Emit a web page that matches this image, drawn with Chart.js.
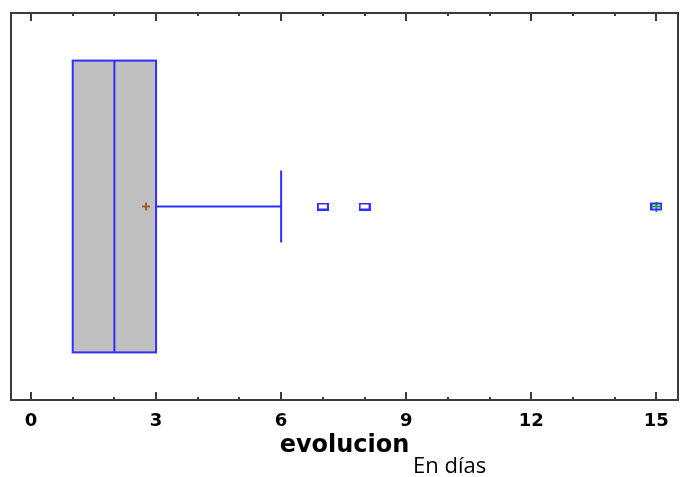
<!DOCTYPE html>
<html>
<head>
<meta charset="utf-8">
<script src="https://cdn.jsdelivr.net/npm/chart.js@4.4.1/dist/chart.umd.min.js"></script>
<style>
  html, body { margin: 0; padding: 0; background: #fff; }
  #wrap { position: relative; width: 681px; height: 477px; }
  #note { position: absolute; left: 413px; top: 453px; font-family: "Open Sans"; font-size: 22px; line-height: 22px; color: #000; white-space: nowrap; }
</style>
</head>
<body>
<div id="wrap">
  <canvas id="chart" width="681" height="477"></canvas>
  <div id="note">En días</div>
</div>
<script>
const categories = ['evolucion'];
const xTickValues = [0, 3, 6, 9, 12, 15];
const minorTickValues = [0, 1, 2, 3, 4, 5, 6, 7, 8, 9, 10, 11, 12, 13, 14, 15];
const lowerQuartile = [1];
const medianValue = [2];
const upperQuartile = [3];
const whiskerLow = [1];
const whiskerHigh = [6];
const meanValue = [2.76];
const outsidePoints = [7, 8];
const farOutsidePoints = [15];

// layout: y runs 0..1 inside the frame
const rowY = 0.5;
const boxHalf = 0.377;
const capHalf = 0.093;
const BLUE = '#2f2fff';
const FRAME = '#3c3c3c';

function markImage(withPlus) {
    const c = document.createElement('canvas');
    c.width = 12;
    c.height = withPlus ? 10 : 8;
    const g = c.getContext('2d');
    const off = withPlus ? 1 : 0;
    if (withPlus) {
        g.strokeStyle = '#2aa02a';
        g.lineWidth = 2;
        g.beginPath();
        g.moveTo(6, 0); g.lineTo(6, 10);
        g.moveTo(2, 5); g.lineTo(10, 5);
        g.stroke();
    }
    g.strokeStyle = BLUE;
    g.lineWidth = 2;
    g.strokeRect(1, 1 + off, 10, 6);
    return c;
}

const boxPlot = {
    id: 'boxPlot',
    beforeDatasetsDraw(chart) {
        const {ctx, scales: {x, y}} = chart;
        ctx.save();
        categories.forEach((c, i) => {
            const top = y.getPixelForValue(rowY + boxHalf);
            const bottom = y.getPixelForValue(rowY - boxHalf);
            const x1 = x.getPixelForValue(lowerQuartile[i]);
            const xm = x.getPixelForValue(medianValue[i]);
            const x3 = x.getPixelForValue(upperQuartile[i]);
            ctx.fillStyle = '#c0c0c0';
            ctx.fillRect(x1, top, x3 - x1, bottom - top);
            ctx.strokeStyle = BLUE;
            ctx.lineWidth = 2;
            ctx.strokeRect(x1, top, x3 - x1, bottom - top);
            ctx.beginPath();
            ctx.moveTo(xm, top);
            ctx.lineTo(xm, bottom);
            ctx.stroke();
        });
        ctx.restore();
    },
    afterDraw(chart) {
        const {ctx, chartArea: a, scales: {x}} = chart;
        ctx.save();
        ctx.strokeStyle = FRAME;
        ctx.lineWidth = 2;
        ctx.strokeRect(a.left, a.top, a.right - a.left, a.bottom - a.top);
        ctx.beginPath();
        minorTickValues.forEach(v => {
            const px = Math.round(x.getPixelForValue(v));
            const len = xTickValues.includes(v) ? 8 : 3;
            ctx.moveTo(px, a.bottom);
            ctx.lineTo(px, a.bottom - len);
            ctx.moveTo(px, a.top);
            ctx.lineTo(px, a.top + len);
        });
        ctx.stroke();
        ctx.restore();
    }
};

const whiskerSets = [];
categories.forEach((c, i) => {
    whiskerSets.push({
        data: [{x: upperQuartile[i], y: rowY}, {x: whiskerHigh[i], y: rowY}]
    });
    whiskerSets.push({
        data: [{x: whiskerHigh[i], y: rowY - capHalf}, {x: whiskerHigh[i], y: rowY + capHalf}]
    });
    whiskerSets.push({
        data: [{x: whiskerLow[i], y: rowY}, {x: lowerQuartile[i], y: rowY}]
    });
});

new Chart(document.getElementById('chart'), {
    type: 'scatter',
    data: {
        datasets: [
            ...whiskerSets.map(s => ({
                data: s.data,
                showLine: true,
                borderColor: BLUE,
                borderWidth: 2,
                pointRadius: 0,
            })),
            {
                data: meanValue.map(v => ({x: v, y: rowY})),
                pointStyle: 'cross',
                radius: 4,
                borderWidth: 2,
                borderColor: '#a85a28',
            },
            {
                data: outsidePoints.map(v => ({x: v, y: rowY})),
                pointStyle: markImage(false),
            },
            {
                data: farOutsidePoints.map(v => ({x: v, y: rowY})),
                pointStyle: markImage(true),
            },
        ],
    },
    options: {
        responsive: false,
        animation: false,
        devicePixelRatio: 1,
        layout: {
            autoPadding: false,
            padding: {left: 11, right: 3, top: 13, bottom: 0},
        },
        plugins: {
            legend: {display: false},
            tooltip: {enabled: false},
        },
        scales: {
            x: {
                type: 'linear',
                min: -0.48,
                max: 15.52,
                grid: {display: false, drawTicks: false},
                border: {display: false},
                afterBuildTicks: (axis) => {
                    axis.ticks = xTickValues.map(v => ({value: v}));
                },
                afterFit: (axis) => {
                    axis.height = 77;
                    axis.paddingLeft = 0;
                    axis.paddingRight = 0;
                },
                ticks: {
                    color: '#000',
                    padding: 11,
                    maxRotation: 0,
                    font: {family: 'DejaVu Sans', weight: 'bold', size: 18},
                },
                title: {
                    display: true,
                    text: categories[0],
                    color: '#000',
                    padding: {top: 0, bottom: 17},
                    font: {family: 'DejaVu Sans', weight: 'bold', size: 24},
                },
            },
            y: {
                type: 'linear',
                display: false,
                min: 0,
                max: 1,
            },
        },
    },
    plugins: [boxPlot],
});
</script>
</body>
</html>
